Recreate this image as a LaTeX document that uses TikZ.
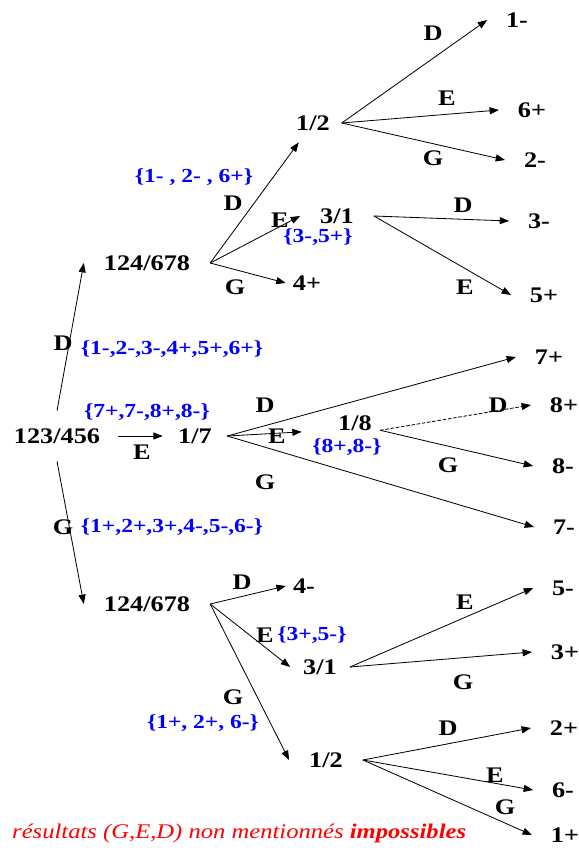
\documentclass[tikz,border=0pt]{standalone}
\usepackage{fontspec}
\setmainfont{Liberation Serif}[FakeStretch=1.18]
\usetikzlibrary{arrows.meta}

\begin{document}
\begin{tikzpicture}[x=0.03cm, y=-0.03cm,
	every node/.style={font=\fontsize{19}{22}\selectfont\bfseries},
	set/.style={text=blue, font=\fontsize{17}{20}\selectfont\bfseries},
	arr/.style={-{Triangle[length=8pt,width=6pt]}, line width=0.7pt}]
	\useasboundingbox (0,0) rectangle (578,850);
	% states of the tree
	\node[inner sep=15pt] (root) at (57,436) {123/456};
	\node[inner sep=17pt] (t124) at (147,263) {124/678};
	\node[inner sep=17pt] (b124) at (147,604) {124/678};
	\node[inner sep=13pt] (n17) at (195,436) {1/7};
	\node[inner sep=10pt] (t12) at (313,123) {1/2};
	\node[inner sep=17pt] (t31) at (337,216) {3/1};
	\node[inner sep=7pt] (n18) at (355,423) {1/8};
	\node[inner sep=11pt] (b31) at (320,667) {3/1};
	\node[inner sep=17pt] (b12) at (326,760) {1/2};
	% outcomes
	\foreach \n/\x/\y/\s/\t in {l1m/517/20/16/1-, l6p/532/110/16/6+, l2m/535/160/16/2-, l3m/539/221/16/3-,
		l5p/544/295/16/5+, l4p/307/283/6/4+, l7p/549/357/16/7+, l8p/564/405/16/8+, l8m/563/466/16/8-,
		l7m/564/527/16/7-, l4m/304/586/6/4-, l5m/563/588/16/5-, l3p/565/652/16/3+, l2p/564/728/16/2+,
		l6m/563/790/16/6-, l1p/565/835/16/1+}
		\node[inner sep=\s pt] (\n) at (\x,\y) {\t};
	% weighings
	\foreach \n/\x/\y/\t in {1/63/343/D, 2/63/527/G, 3/142/452/E, 4/233/203/D, 5/280/220/E, 6/235/287/G,
		7/433/33/D, 8/447/98/E, 9/433/158/G, 10/463/205/D, 11/465/287/E, 12/265/405/D, 13/277/436/E,
		14/265/482/G, 15/498/405/D, 16/448/465/G, 17/242/582/D, 18/265/635/E, 19/233/697/G,
		20/465/602/E, 21/463/682/G, 22/448/728/D, 23/495/775/E, 24/505/807/G}
		\node (w\n) at (\x,\y) {\t};
	% remaining cases
	\foreach \n/\x/\y/\t in {1/172/349/{\{1-,2-,3-,4+,5+,6+\}}, 2/147/412/{\{7+,7-,8+,8-\}},
		3/172/527/{\{1+,2+,3+,4-,5-,6-\}}, 4/194/177/{\{1- , 2- , 6+\}}, 5/318/237/{\{3-,5+\}},
		6/347/447/{\{8+,8-\}}, 7/312/635/{\{3+,5-\}}, 8/203/723/{\{1+, 2+, 6-\}}}
		\node[set] (s\n) at (\x,\y) {\t};
	% branches
	\foreach \a/\b in {root.north/t124.west, root.east/n17.west, root.south/b124.west,
		t124.east/t12, t124.east/t31.west, t124.east/l4p.west,
		t12.east/l1m.west, t12.east/l6p.west, t12.east/l2m.west, t31.east/l3m.west, t31.east/l5p.west,
		n17.east/l7p.west, n17.east/l7m.west, n18.base east/l8m.west,
		b124.east/l4m.west, b124.east/b31.west, b124.east/b12.west,
		b31.east/l5m.west, b31.east/l3p.west, b12.east/l2p.west, b12.east/l6m.west, b12.east/l1p.west}
		\draw[arr] (\a) -- (\b);
	\draw[arr, shorten >=24pt] (n17.east) -- (n18.base west);
	\draw[arr, dash pattern=on 3pt off 1.5pt] (n18.base east) -- (l8p.west);
	\node[anchor=west, inner sep=0pt, text=red, font=\fontsize{17.8}{21}\selectfont\itshape] (note) at (12,833)
		{résultats (G,E,D) non mentionnés \textbf{impossibles}};
\end{tikzpicture}
\end{document}
